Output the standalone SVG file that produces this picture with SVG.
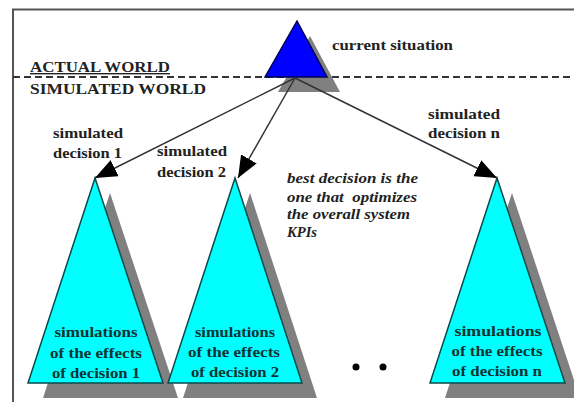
<svg xmlns="http://www.w3.org/2000/svg" width="574" height="402" viewBox="0 0 574 402">
<style>
  .t { font-weight: bold; font-size: 14px; fill: #222; }
  .it { font-weight: bold; font-style: italic; font-size: 14px; fill: #222; white-space: pre; }
  .tt { font-weight: bold; font-size: 14px; fill: #0d3333; text-anchor: middle; }
  .cyan { fill: #00ffff; stroke: #0a4a4a; stroke-width: 1.5; stroke-linejoin: miter; }
  .shadow { fill: #808080; }
  .conn { stroke: #333; stroke-width: 1.5; fill: none; marker-end: url(#ah); }
</style>
<defs>
  <marker id="ah" markerUnits="userSpaceOnUse" markerWidth="24" markerHeight="18" refX="22" refY="9" orient="auto">
    <path d="M0,0 L22,9 L0,18 z" fill="#000"/>
  </marker>
</defs>
<rect x="0" y="0" width="574" height="402" fill="#fff"/>
<g font-family="'Liberation Serif', 'DejaVu Serif', serif">
<g id="frame">
  <line x1="12" y1="9.5" x2="574" y2="9.5" stroke="#555" stroke-width="2"/>
  <line x1="13" y1="9" x2="13" y2="402" stroke="#555" stroke-width="2"/>
  <line x1="13" y1="77" x2="574" y2="77" stroke="#333" stroke-width="2" stroke-dasharray="7 4"/>
  <text class="t" x="30" y="72" textLength="140" lengthAdjust="spacingAndGlyphs" text-decoration="underline">ACTUAL WORLD</text>
  <text class="t" x="30" y="94" textLength="176" lengthAdjust="spacingAndGlyphs">SIMULATED WORLD</text>
</g>
<g id="current">
  <polygon class="shadow" points="310,36 278,92 340,92"/>
  <polygon points="297,21 265,77 327,77" fill="#0000ff" stroke="#000050" stroke-width="1.5"/>
  <text class="t" x="332" y="50" textLength="121" lengthAdjust="spacingAndGlyphs">current situation</text>
</g>
<g id="sim1">
  <polygon class="shadow" points="110,193 43,398 178,398"/>
  <polygon class="cyan" points="95,178 28,383 163,383"/>
  <text class="tt" x="96" y="337" textLength="83" lengthAdjust="spacingAndGlyphs">simulations</text>
  <text class="tt" x="96" y="358" textLength="92" lengthAdjust="spacingAndGlyphs">of the effects</text>
  <text class="tt" x="96" y="378" textLength="88" lengthAdjust="spacingAndGlyphs">of decision 1</text>
  <text class="t" x="53" y="138" textLength="70" lengthAdjust="spacingAndGlyphs">simulated</text>
  <text class="t" x="53" y="158" textLength="69" lengthAdjust="spacingAndGlyphs">decision 1</text>
</g>
<g id="sim2">
  <polygon class="shadow" points="250,193 183,398 317,398"/>
  <polygon class="cyan" points="235,178 168,383 302,383"/>
  <text class="tt" x="235" y="337" textLength="80" lengthAdjust="spacingAndGlyphs">simulations</text>
  <text class="tt" x="234" y="357" textLength="92" lengthAdjust="spacingAndGlyphs">of the effects</text>
  <text class="tt" x="235" y="377" textLength="88" lengthAdjust="spacingAndGlyphs">of decision 2</text>
  <text class="t" x="157" y="156" textLength="70" lengthAdjust="spacingAndGlyphs">simulated</text>
  <text class="t" x="157" y="177" textLength="69" lengthAdjust="spacingAndGlyphs">decision 2</text>
</g>
<g id="simn">
  <polygon class="shadow" points="512,193 445,398 580,398"/>
  <polygon class="cyan" points="497,178 430,383 565,383"/>
  <text class="tt" x="498" y="336" textLength="87" lengthAdjust="spacingAndGlyphs">simulations</text>
  <text class="tt" x="497" y="356" textLength="91" lengthAdjust="spacingAndGlyphs">of the effects</text>
  <text class="tt" x="497" y="376" textLength="90" lengthAdjust="spacingAndGlyphs">of decision n</text>
  <text class="t" x="428" y="119" textLength="72" lengthAdjust="spacingAndGlyphs">simulated</text>
  <text class="t" x="428" y="138" textLength="72" lengthAdjust="spacingAndGlyphs">decision n</text>
</g>
<g id="note">
  <text class="it" x="287" y="183" textLength="131" lengthAdjust="spacingAndGlyphs">best decision is the</text>
  <text class="it" x="287" y="202" textLength="130" lengthAdjust="spacingAndGlyphs">one that  optimizes</text>
  <text class="it" x="287" y="219" textLength="123" lengthAdjust="spacingAndGlyphs">the overall system</text>
  <text class="it" x="287" y="237" textLength="30" lengthAdjust="spacingAndGlyphs">KPIs</text>
</g>
</g>
<g id="ellipsis">
  <circle cx="356" cy="367" r="3.5" fill="#000"/>
  <circle cx="383" cy="367" r="3.5" fill="#000"/>
</g>
<g id="connectors">
  <line class="conn" x1="295" y1="78" x2="95" y2="178"/>
  <line class="conn" x1="295" y1="78" x2="238" y2="178"/>
  <line class="conn" x1="295" y1="78" x2="497" y2="178"/>
</g>
</svg>
